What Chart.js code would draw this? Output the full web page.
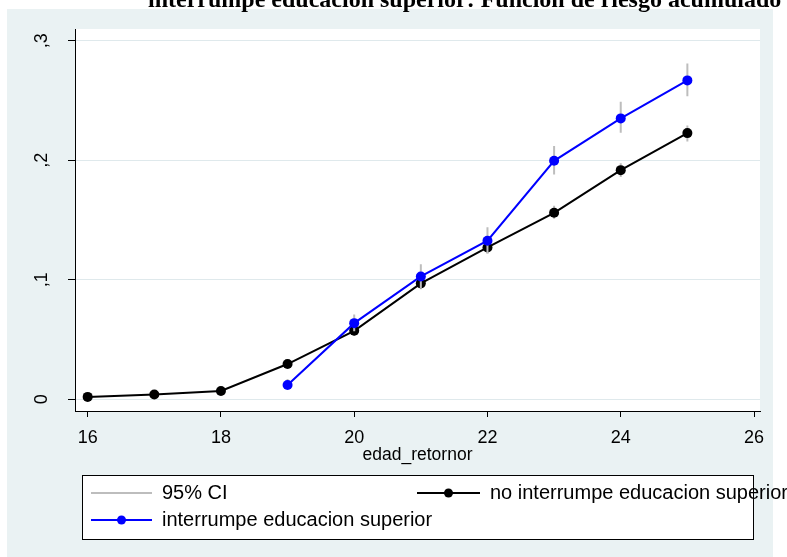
<!DOCTYPE html>
<html>
<head>
<meta charset="utf-8">
<script src="https://cdn.jsdelivr.net/npm/chart.js@4/dist/chart.umd.min.js"></script>
<style>
  html, body { margin: 0; padding: 0; background: #ffffff; }
  #wrap { position: relative; width: 787px; height: 557px; }
</style>
</head>
<body>
<div id="wrap"><canvas id="c" width="787" height="557"></canvas></div>
<script>
// Cumulative hazard by return age, with 95% confidence bounds
const titleText = 'interrumpe educacion superior: Funcion de riesgo acumulado';
const xAxisTitle = 'edad_retornor';

const agesNo = [16, 17, 18, 19, 20, 21, 22, 23, 24, 25];
const hazardNo = [0.002, 0.004, 0.007, 0.0295, 0.0573, 0.097, 0.127, 0.156, 0.1917, 0.2227];
const hazardNoLo = [0.001, 0.0025, 0.005, 0.026, 0.053, 0.092, 0.122, 0.151, 0.186, 0.2157];
const hazardNoHi = [0.003, 0.0055, 0.009, 0.033, 0.062, 0.102, 0.132, 0.162, 0.1975, 0.229];

const agesYes = [19, 20, 21, 22, 23, 24, 25];
const hazardYes = [0.012, 0.0637, 0.1028, 0.1327, 0.1995, 0.235, 0.2668];
const hazardYesLo = [0.009, 0.057, 0.093, 0.122, 0.188, 0.223, 0.2535];
const hazardYesHi = [0.017, 0.071, 0.113, 0.144, 0.212, 0.249, 0.281];

const xTicks = [16, 18, 20, 22, 24, 26];
const yTicks = [0, 0.1, 0.2, 0.3];
const yTickLabels = ['0', ',1', ',2', ',3'];

const legendCI = '95% CI';
const legendNo = 'no interrumpe educacion superior';
const legendYes = 'interrumpe educacion superior';

const BLUE = '#0000ff';
const BLACK = '#000000';
const CI_GRAY = '#bdbdbd';
const PANEL = '#eaf2f3';

function points(xs, ys) {
  return xs.map((x, i) => ({ x: x, y: ys[i] }));
}
// vertical spikes: lo -> hi at each age, separated by gaps
function spikes(xs, lo, hi) {
  const out = [];
  xs.forEach((x, i) => {
    out.push({ x: x, y: lo[i] });
    out.push({ x: x, y: hi[i] });
    out.push({ x: x, y: null });
  });
  return out;
}

const backdrop = {
  id: 'backdrop',
  beforeDraw(chart) {
    const ctx = chart.ctx;
    const a = chart.chartArea;
    ctx.save();
    ctx.fillStyle = '#ffffff';
    ctx.fillRect(0, 0, chart.width, chart.height);
    ctx.fillStyle = PANEL;
    ctx.fillRect(7, 9, 766, 548);
    ctx.fillStyle = '#ffffff';
    ctx.fillRect(a.left, a.top, a.right - a.left, a.bottom - a.top);
    ctx.restore();
  },
  afterDraw(chart) {
    const ctx = chart.ctx;
    ctx.save();
    // title
    ctx.fillStyle = '#000';
    ctx.font = 'bold 24px "Liberation Serif", "Times New Roman", serif';
    ctx.textAlign = 'left';
    ctx.textBaseline = 'alphabetic';
    ctx.fillText(titleText, 148, 7);

    // legend box
    ctx.fillStyle = '#ffffff';
    ctx.fillRect(82.5, 475.5, 671, 64);
    ctx.strokeStyle = '#000';
    ctx.lineWidth = 1;
    ctx.strokeRect(82.5, 475.5, 671, 64);

    const font = '20px "Liberation Sans", Arial, sans-serif';
    function entry(x0, x1, y, color, dot, label) {
      ctx.strokeStyle = color;
      ctx.lineWidth = 2;
      ctx.beginPath();
      ctx.moveTo(x0, y);
      ctx.lineTo(x1, y);
      ctx.stroke();
      if (dot) {
        ctx.fillStyle = color;
        ctx.beginPath();
        ctx.arc((x0 + x1) / 2, y, 4.5, 0, Math.PI * 2);
        ctx.fill();
      }
      ctx.fillStyle = '#000';
      ctx.font = font;
      ctx.textBaseline = 'middle';
      ctx.textAlign = 'left';
      ctx.fillText(label, x1 + 10, y);
    }
    entry(91, 152, 493, CI_GRAY, false, legendCI);
    entry(417, 480, 493, BLACK, true, legendNo);
    entry(91, 152, 520, BLUE, true, legendYes);
    ctx.restore();
  }
};

new Chart(document.getElementById('c'), {
  type: 'line',
  data: {
    datasets: [
      {
        label: legendYes,
        data: points(agesYes, hazardYes),
        borderColor: BLUE,
        backgroundColor: BLUE,
        borderWidth: 2,
        pointRadius: 5,
        pointBorderWidth: 0,
        tension: 0,
        order: 1
      },
      {
        label: legendCI,
        data: spikes(agesYes, hazardYesLo, hazardYesHi),
        borderColor: CI_GRAY,
        borderWidth: 2,
        pointRadius: 0,
        spanGaps: false,
        order: 2
      },
      {
        label: legendNo,
        data: points(agesNo, hazardNo),
        borderColor: BLACK,
        backgroundColor: BLACK,
        borderWidth: 2,
        pointRadius: 5,
        pointBorderWidth: 0,
        tension: 0,
        order: 3
      },
      {
        label: legendCI,
        data: spikes(agesNo, hazardNoLo, hazardNoHi),
        borderColor: CI_GRAY,
        borderWidth: 2,
        pointRadius: 0,
        spanGaps: false,
        order: 4
      }
    ]
  },
  options: {
    responsive: false,
    animation: false,
    devicePixelRatio: 1,
    layout: { padding: { left: 0, top: 29, right: 27, bottom: 91 } },
    plugins: {
      legend: { display: false },
      tooltip: { enabled: false },
      title: { display: false }
    },
    scales: {
      x: {
        type: 'linear',
        min: 15.81,
        max: 26.09,
        afterBuildTicks(scale) { scale.ticks = xTicks.map(v => ({ value: v })); },
        afterFit(scale) { scale.height = 55; },
        grid: { drawOnChartArea: false, drawTicks: true, tickLength: 6, tickColor: '#000', tickWidth: 1 },
        border: { display: true, color: '#000', width: 1 },
        ticks: {
          color: '#000',
          padding: 10,
          font: { family: '"Liberation Sans", Arial, sans-serif', size: 18 },
          maxRotation: 0,
          minRotation: 0
        },
        title: {
          display: true,
          text: xAxisTitle,
          color: '#000',
          padding: 0,
          font: { family: '"Liberation Sans", Arial, sans-serif', size: 17.5 }
        }
      },
      y: {
        type: 'linear',
        min: -0.0098,
        max: 0.3098,
        afterBuildTicks(scale) { scale.ticks = yTicks.map(v => ({ value: v })); },
        afterFit(scale) { scale.width = 75; },
        grid: { color: '#dfe9ec', lineWidth: 1, drawTicks: true, tickLength: 7, tickColor: '#000', tickWidth: 1 },
        border: { display: true, color: '#000', width: 1 },
        ticks: {
          color: '#000',
          padding: 18,
          crossAlign: 'center',
          minRotation: 90,
          maxRotation: 90,
          font: { family: '"Liberation Sans", Arial, sans-serif', size: 18 },
          callback(value) {
            const i = yTicks.findIndex(t => Math.abs(t - value) < 1e-9);
            return i >= 0 ? yTickLabels[i] : '';
          }
        }
      }
    }
  },
  plugins: [backdrop]
});
</script>
</body>
</html>
